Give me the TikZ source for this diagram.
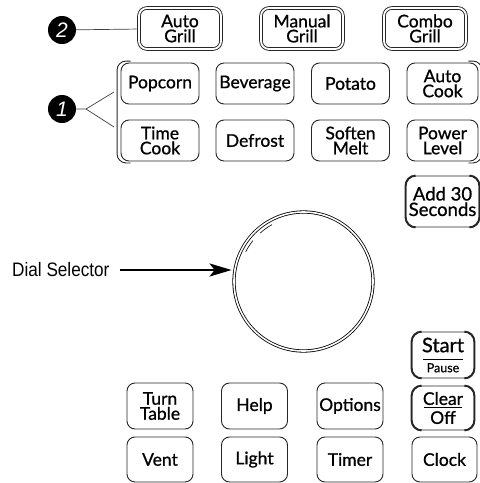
\documentclass[tikz,border=0pt]{standalone}
\usepackage{fontspec}
\usetikzlibrary{arrows.meta}
\newfontfamily\keyfont[FakeBold=0.8]{Lato}
\newfontfamily\dialfont[FakeStretch=0.88]{Liberation Sans}
\newfontfamily\numfont{Liberation Sans}

\tikzset{
  keyline/.style={line width=0.9pt, draw=black!85},
  key/.style={keyline, rounded corners=8pt, inner sep=0pt, align=center,
    minimum width=78pt, minimum height=41pt, text=black,
    font=\keyfont\fontsize{17.5}{15}\selectfont},
  grillkey/.style={key, double, double distance=1.8pt, minimum width=82pt},
  roundkey/.style={key, rounded corners=10pt},
  callout/.style={circle, fill=black, text=white, inner sep=0pt,
    minimum size=28pt, font=\numfont\itshape\fontsize{21}{21}\selectfont}
}

\begin{document}
\begin{tikzpicture}[x=1pt,y=1pt]
\useasboundingbox (0,0) rectangle (480,-483);

% grill keys
\node[grillkey] (ag) at (180,-28.5) {Auto\\Grill};
\node[grillkey] (mg) at (302,-28.5) {Manual\\Grill};
\node[grillkey] (cg) at (425,-28.5) {Combo\\Grill};

% cooking keys
\node[key] (pop) at (160,-83.5) {Popcorn};
\node[key] (bev) at (255,-83.5) {Beverage};
\node[key] (pot) at (350.5,-83.5) {Potato};
\node[key, minimum width=71pt] (ack) at (442.5,-83.5) {Auto\\Cook};
\node[key] (tc) at (160,-140.5) {Time\\Cook};
\node[key] (df) at (255,-140.5) {Defrost};
\node[key] (sm) at (350.5,-140.5) {Soften\\Melt};
\node[key, minimum width=71pt] (pl) at (442.5,-140.5) {Power\\Level};

\draw[keyline, rounded corners=9pt] ([shift={(10,1.5)}]pop.north west) -- ([shift={(-3.5,1.5)}]pop.north west)
  -- ([shift={(-3.5,-1.5)}]tc.south west) -- ([shift={(10,-1.5)}]tc.south west);
\draw[keyline, rounded corners=9pt] ([shift={(-10,1.5)}]ack.north east) -- ([shift={(3.5,1.5)}]ack.north east)
  -- ([shift={(3.5,-1.5)}]pl.south east) -- ([shift={(-10,-1.5)}]pl.south east);

\node[roundkey, minimum width=73pt, minimum height=51pt, font=\keyfont\fontsize{18.5}{15.5}\selectfont] (add) at (442.5,-201.5) {Add 30\\Seconds};

% dial
\node[circle, draw, line width=0.8pt, double, double distance=1.6pt, minimum size=139pt, inner sep=0pt] (dial) at (303.5,-281.5) {};
\draw[line width=0.6pt] ([shift={(132:65)}]dial.center) arc (132:119:65);
\draw[line width=0.6pt] ([shift={(153:65)}]dial.center) arc (153:141:65);

\node[anchor=west, inner sep=0pt, font=\dialfont\fontsize{19.5}{19.5}\selectfont] (dsl) at (12,-270) {Dial Selector};
\draw[line width=2.4pt, -{Stealth[length=22pt,width=13pt,inset=5pt]}, shorten <=10pt, shorten >=2pt]
  (dsl.east) -- (dsl.east -| dial.west);

% start and clear
\node[roundkey, minimum width=62pt, minimum height=46pt] (st) at (443,-355)
  {{\fontsize{20}{20}\selectfont Start}\\[-7pt]\rule{40pt}{0.8pt}\\[-3pt]{\fontsize{12.5}{12.5}\selectfont Pause}};
\node[roundkey, minimum width=62pt, minimum height=44pt] (cl) at (443,-408)
  {Clear\\[-12pt]\rule{38pt}{0.8pt}\\[1pt]Off};

\foreach \k in {add,st,cl} {
  \draw[line width=1.8pt, draw=black!85, rounded corners=10pt] ([xshift=10pt]\k.north west) -- (\k.north west)
    -- (\k.south west) -- ([xshift=10pt]\k.south west);
  \draw[line width=1.8pt, draw=black!85, rounded corners=10pt] ([xshift=-10pt]\k.north east) -- (\k.north east)
    -- (\k.south east) -- ([xshift=-10pt]\k.south east);
}

% bottom keys
\node[key, minimum width=66pt, minimum height=46pt] (tt) at (160,-406) {Turn\\Table};
\node[key, minimum width=66pt, minimum height=46pt] (hp) at (254.5,-406) {Help};
\node[key, minimum width=66pt, minimum height=46pt] (op) at (350,-406) {Options};
\node[key, minimum width=66pt, minimum height=45pt] (vt) at (160,-459.5) {Vent};
\node[key, minimum width=66pt, minimum height=45pt] (lt) at (254.5,-459.5) {Light};
\node[key, minimum width=66pt, minimum height=45pt] (tm) at (350,-459.5) {Timer};
\node[key, minimum width=65pt, minimum height=45pt] (ck) at (444.5,-459.5) {Clock};

% callouts
\node[callout] (c2) at (62,-30) {2};
\node[callout] (c1) at (62,-109) {1};
\coordinate (fork) at (86,-109);
\coordinate (f1) at (114,-92);
\coordinate (f2) at (114,-127);
\draw[line width=0.7pt, black!75, shorten >=2pt] (c2) -- (ag);
\draw[line width=0.7pt, black!75] (c1) -- (fork) -- (f1);
\draw[line width=0.7pt, black!75] (fork) -- (f2);

\end{tikzpicture}
\end{document}
